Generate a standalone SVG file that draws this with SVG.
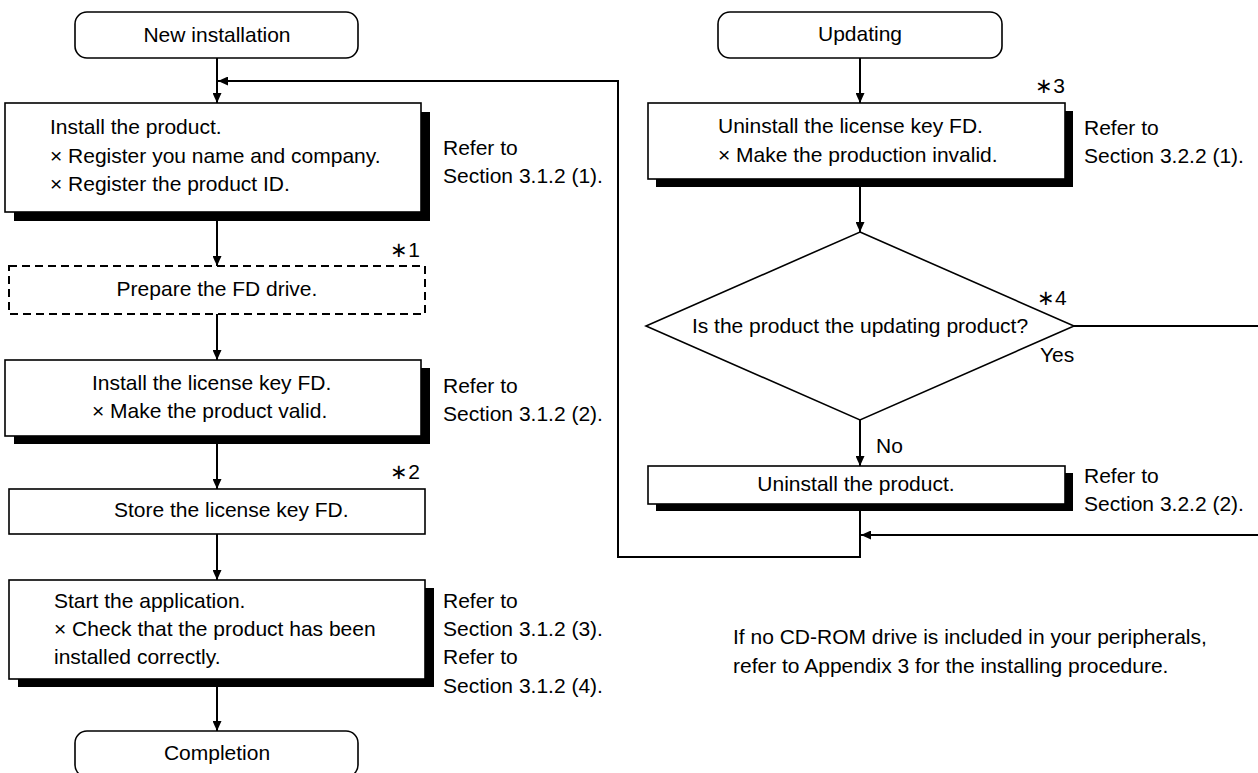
<svg xmlns="http://www.w3.org/2000/svg" width="1258" height="773" viewBox="0 0 1258 773">
<style>
text{font-family:"Liberation Sans",Arial,sans-serif;font-size:21px;fill:#000}
.c{text-anchor:middle}
.e{text-anchor:end}
.box{fill:#fff;stroke:#000;stroke-width:1.6}
.sh{fill:#000}
.dash{fill:#fff;stroke:#000;stroke-width:2;stroke-dasharray:8 5}
.term{fill:#fff;stroke:#000;stroke-width:1.6}
.ln{fill:none;stroke:#000;stroke-width:2}
</style>
<defs>
<marker id="ah" markerUnits="userSpaceOnUse" markerWidth="10" markerHeight="9" refX="10" refY="4.5" orient="auto">
<path d="M0,0 L10,4.5 L0,9 z" fill="#000"/>
</marker>
</defs>
<rect width="1258" height="773" fill="#fff"/>

<g id="connectors">
<line class="ln" x1="217" y1="58" x2="217" y2="103" marker-end="url(#ah)"/>
<polyline class="ln" points="860,511 860,557 618,557 618,81 218,81" marker-end="url(#ah)"/>
<line class="ln" x1="217" y1="212" x2="217" y2="266" marker-end="url(#ah)"/>
<line class="ln" x1="217" y1="314" x2="217" y2="360" marker-end="url(#ah)"/>
<line class="ln" x1="217" y1="436" x2="217" y2="489" marker-end="url(#ah)"/>
<line class="ln" x1="217" y1="534" x2="217" y2="580" marker-end="url(#ah)"/>
<line class="ln" x1="217" y1="679" x2="217" y2="731" marker-end="url(#ah)"/>
<line class="ln" x1="860" y1="58" x2="860" y2="103" marker-end="url(#ah)"/>
<line class="ln" x1="860" y1="179" x2="860" y2="232" marker-end="url(#ah)"/>
<line class="ln" x1="860" y1="420" x2="860" y2="466" marker-end="url(#ah)"/>
<line class="ln" x1="1074" y1="326" x2="1258" y2="326"/>
<line class="ln" x1="1258" y1="535" x2="861" y2="535" marker-end="url(#ah)"/>
</g>

<g id="new-installation">
<rect class="term" x="75" y="12" width="283" height="46" rx="12"/>
<text class="c" x="217" y="42">New installation</text>
</g>

<g id="install-product">
<rect class="sh" x="14" y="112" width="416" height="109"/>
<rect class="box" x="5" y="103" width="416" height="109"/>
<text x="50" y="134">Install the product.</text>
<text x="50" y="163">× Register you name and company.</text>
<text x="50" y="191">× Register the product ID.</text>
</g>
<g id="ref-312-1">
<text x="443" y="155">Refer to</text>
<text x="443" y="183">Section 3.1.2 (1).</text>
</g>

<g id="prepare-fd">
<text class="e" x="420" y="257">∗1</text>
<rect class="dash" x="9" y="266" width="416" height="48"/>
<text class="c" x="217" y="296">Prepare the FD drive.</text>
</g>

<g id="install-license">
<rect class="sh" x="14" y="368" width="416" height="76"/>
<rect class="box" x="5" y="360" width="416" height="76"/>
<text x="92" y="390">Install the license key FD.</text>
<text x="92" y="418">× Make the product valid.</text>
</g>
<g id="ref-312-2">
<text x="443" y="393">Refer to</text>
<text x="443" y="421">Section 3.1.2 (2).</text>
</g>

<g id="store-license">
<text class="e" x="420" y="479">∗2</text>
<rect class="box" x="9" y="489" width="416" height="45"/>
<text x="114" y="517">Store the license key FD.</text>
</g>

<g id="start-app">
<rect class="sh" x="18" y="588" width="416" height="99"/>
<rect class="box" x="9" y="580" width="416" height="99"/>
<text x="54" y="608">Start the application.</text>
<text x="54" y="636">× Check that the product has been</text>
<text x="54" y="664">installed correctly.</text>
</g>
<g id="ref-312-34">
<text x="443" y="608">Refer to</text>
<text x="443" y="636">Section 3.1.2 (3).</text>
<text x="443" y="664">Refer to</text>
<text x="443" y="693">Section 3.1.2 (4).</text>
</g>

<g id="completion">
<rect class="term" x="75" y="731" width="283" height="46" rx="12"/>
<text class="c" x="217" y="760">Completion</text>
</g>

<g id="updating">
<rect class="term" x="718" y="12" width="284" height="46" rx="12"/>
<text class="c" x="860" y="41">Updating</text>
</g>

<g id="uninstall-license">
<text class="e" x="1065" y="93">∗3</text>
<rect class="sh" x="656" y="111" width="417" height="76"/>
<rect class="box" x="648" y="103" width="417" height="76"/>
<text x="718" y="133">Uninstall the license key FD.</text>
<text x="718" y="162">× Make the production invalid.</text>
</g>
<g id="ref-322-1">
<text x="1084" y="135">Refer to</text>
<text x="1084" y="163">Section 3.2.2 (1).</text>
</g>

<g id="decision">
<polygon points="860,232 1074,326 860,420 646,326" fill="#fff" stroke="#000" stroke-width="1.6"/>
<text class="c" x="860" y="333">Is the product the updating product?</text>
<text x="1037" y="305">∗4</text>
<text x="1040" y="362">Yes</text>
<text x="876" y="453">No</text>
</g>

<g id="uninstall-product">
<rect class="sh" x="656" y="473" width="417" height="38"/>
<rect class="box" x="648" y="466" width="417" height="38"/>
<text class="c" x="856" y="491">Uninstall the product.</text>
</g>
<g id="ref-322-2">
<text x="1084" y="483">Refer to</text>
<text x="1084" y="511">Section 3.2.2 (2).</text>
</g>

<g id="note">
<text x="733" y="644">If no CD-ROM drive is included in your peripherals,</text>
<text x="733" y="673">refer to Appendix 3 for the installing procedure.</text>
</g>
</svg>
